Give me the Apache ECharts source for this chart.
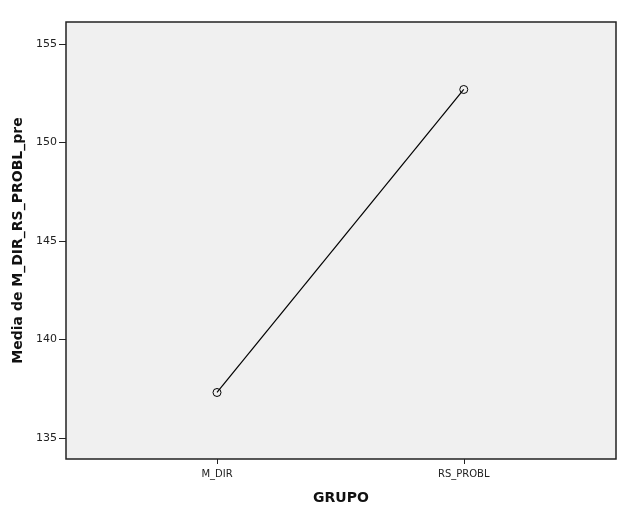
<!DOCTYPE html>
<html>
<head>
<meta charset="utf-8">
<script src="https://cdn.jsdelivr.net/npm/echarts@6/dist/echarts.min.js"></script>
<style>
  html, body { margin: 0; padding: 0; background: #fff; }
  #main { width: 628px; height: 511px; }
</style>
</head>
<body>
<div id="main"></div>
<script>
// grupos y medias
const grupos = ['M_DIR', 'RS_PROBL']
const posiciones = [1, 2]
const medias = [137.3, 152.7]
const yTicks = [135, 140, 145, 150, 155]

const myChart = echarts.init(document.getElementById('main'))

const option = {
  animation: false,
  textStyle: { fontFamily: 'DejaVu Sans' },
  grid: {
    left: 66,
    top: 22,
    right: 12,
    bottom: 52,
    show: true,
    backgroundColor: '#f0f0f0',
    borderColor: '#222',
    borderWidth: 1.5
  },
  xAxis: {
    type: 'value',
    min: 0.388,
    max: 2.617,
    name: 'GRUPO',
    nameLocation: 'middle',
    nameGap: 32,
    nameTextStyle: { fontSize: 14, fontWeight: 'bold', color: '#111' },
    splitLine: { show: false },
    axisLine: { show: false },
    axisTick: { show: true, length: 5, lineStyle: { color: '#222' }, customValues: posiciones },
    axisLabel: {
      fontSize: 10,
      color: '#222',
      margin: 10,
      customValues: posiciones,
      formatter: (v) => grupos[posiciones.indexOf(v)] || ''
    }
  },
  yAxis: {
    type: 'value',
    min: 133.92,
    max: 156.13,
    name: 'Media de M_DIR_RS_PROBL_pre',
    nameLocation: 'middle',
    nameGap: 41,
    nameTextStyle: { fontSize: 14, fontWeight: 'bold', color: '#111' },
    splitLine: { show: false },
    axisLine: { show: false },
    axisTick: { show: true, length: 7, lineStyle: { color: '#222' }, customValues: yTicks },
    axisLabel: { fontSize: 11, color: '#222', margin: 9, customValues: yTicks }
  },
  series: [
    {
      type: 'line',
      data: posiciones.map((p, i) => [p, medias[i]]),
      symbol: 'circle',
      symbolSize: 8,
      lineStyle: { color: '#000', width: 1.2 },
      itemStyle: { color: 'transparent', borderColor: '#000', borderWidth: 1 }
    }
  ]
}

myChart.setOption(option)
</script>
</body>
</html>
